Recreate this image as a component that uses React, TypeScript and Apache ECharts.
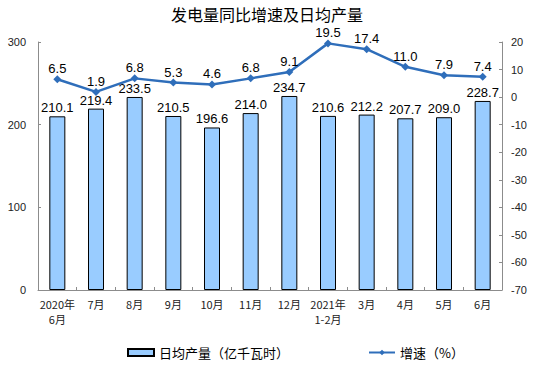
import React, { useEffect, useRef } from "react";
import * as echarts from "echarts";

const categories = ["2020年\n6月", "7月", "8月", "9月", "10月", "11月", "12月", "2021年\n1-2月", "3月", "4月", "5月", "6月"];
const dailyOutput = [210.1, 219.4, 233.5, 210.5, 196.6, 214.0, 234.7, 210.6, 212.2, 207.7, 209.0, 228.7];
const growth = [6.5, 1.9, 6.8, 5.3, 4.6, 6.8, 9.1, 19.5, 17.4, 11.0, 7.9, 7.4];

export default function App() {
  const ref = useRef<HTMLDivElement>(null);
  useEffect(() => {
    if (!ref.current) return;
    const chart = echarts.init(ref.current, undefined, { renderer: "svg" });
    const axisLine = { show: true, lineStyle: { color: "#8c8c8c", width: 1 } };
    chart.setOption({
      animation: false,
      backgroundColor: "#fff",
      title: {
        text: "发电量同比增速及日均产量",
        left: 267,
        textAlign: "center",
        top: 6,
        padding: 0,
        textStyle: { fontSize: 16, lineHeight: 16, fontWeight: "normal", color: "#000", fontFamily: "Noto Sans CJK SC" },
      },
      legend: {
        left: 122,
        top: 341,
        itemGap: 79,
        itemWidth: 26,
        itemHeight: 7,
        textStyle: { fontSize: 13, color: "#000", fontFamily: "Noto Sans CJK SC" },
        data: [
          { name: "日均产量（亿千瓦时）", icon: "rect" },
          { name: "增速（%）" },
        ],
      },
      grid: { left: 38, right: 52, top: 42, bottom: 91 },
      xAxis: {
        type: "category",
        data: categories,
        axisLine,
        axisTick: { show: true, inside: true, length: 3, lineStyle: { color: "#8c8c8c" } },
        axisLabel: { fontSize: 11, color: "#222", fontFamily: "Noto Sans CJK SC", lineHeight: 15, margin: 6, interval: 0 },
      },
      yAxis: [
        {
          type: "value",
          min: 0,
          max: 300,
          interval: 100,
          splitLine: { show: false },
          axisLine,
          axisTick: { show: true, inside: true, length: 3, lineStyle: { color: "#8c8c8c" } },
          axisLabel: { fontSize: 11, color: "#222", margin: 12, fontFamily: "Liberation Sans" },
        },
        {
          type: "value",
          min: -70,
          max: 20,
          interval: 10,
          splitLine: { show: false },
          axisLine,
          axisTick: { show: true, inside: true, length: 3, lineStyle: { color: "#8c8c8c" } },
          axisLabel: { fontSize: 11, color: "#222", margin: 9, fontFamily: "Liberation Sans" },
        },
      ],
      series: [
        {
          name: "日均产量（亿千瓦时）",
          type: "bar",
          data: dailyOutput,
          barWidth: 16,
          itemStyle: { color: "#99CCFF", borderColor: "#000", borderWidth: 1 },
          label: {
            show: true,
            position: "top",
            distance: 2,
            fontSize: 13,
            color: "#000",
            fontFamily: "Liberation Sans",
            formatter: (p: any) => p.value.toFixed(1),
          },
        },
        {
          name: "增速（%）",
          type: "line",
          yAxisIndex: 1,
          data: growth,
          symbol: "diamond",
          symbolSize: 8,
          lineStyle: { color: "#2F6EBA", width: 2.5 },
          itemStyle: { color: "#2F6EBA" },
          label: {
            show: true,
            position: "top",
            distance: 0,
            fontSize: 13,
            lineHeight: 13,
            color: "#000",
            fontFamily: "Liberation Sans",
            formatter: (p: any) => p.value.toFixed(1),
          },
        },
      ],
    });
    return () => chart.dispose();
  }, []);
  return <div ref={ref} style={{ position: "fixed", left: 0, top: 0, width: 554, height: 381 }} />;
}
